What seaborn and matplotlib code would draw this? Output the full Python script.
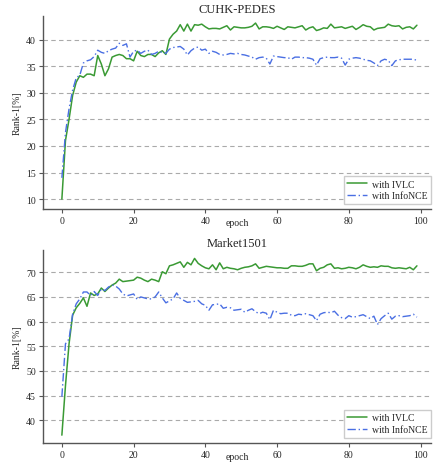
import numpy as np
import pandas as pd
import seaborn as sns
import matplotlib.pyplot as plt

epochs = list(range(100))

cuhk_ivlc = [
    10.0, 21.0, 25.0, 29.5, 32.0, 33.2, 32.9, 33.5, 33.5, 33.2,
    37.0, 35.4, 33.2, 34.5, 36.7, 37.0, 37.2, 37.0, 36.4, 36.4,
    36.0, 37.8, 37.0, 36.8, 37.2, 37.2, 36.8, 37.5, 37.9, 37.2,
    40.1, 41.0, 41.6, 42.8, 41.6, 42.9, 41.6, 42.8, 42.7, 42.9,
    42.4, 42.0, 42.1, 42.1, 42.0, 42.3, 42.6, 41.8, 42.4, 42.3,
    42.2, 42.2, 42.3, 42.5, 43.1, 42.0, 42.4, 42.4, 42.3, 42.1,
    42.5, 42.2, 41.9, 42.4, 42.3, 42.2, 42.4, 42.6, 41.8, 42.2,
    42.4, 41.7, 41.9, 42.2, 42.1, 42.9, 42.2, 42.3, 42.4, 42.1,
    42.3, 42.5, 41.9, 42.3, 42.8, 42.5, 42.4, 41.8, 42.1, 42.2,
    42.3, 42.9, 42.6, 42.5, 42.6, 42.0, 42.3, 42.4, 42.0, 42.7,
]
cuhk_infonce = [
    14.0, 22.5, 27.0, 30.5, 32.8, 33.3, 35.6, 36.0, 36.2, 36.8,
    38.0, 37.6, 37.4, 37.9, 38.2, 38.4, 39.3, 38.9, 39.2, 36.7,
    37.8, 38.0, 37.4, 37.8, 38.0, 37.2, 37.4, 37.8, 37.6, 37.4,
    38.2, 38.5, 38.6, 38.7, 38.2, 37.1, 37.9, 38.4, 38.6, 38.0,
    38.2, 37.4, 37.8, 37.6, 37.2, 37.1, 37.2, 37.4, 37.3, 37.4,
    37.2, 37.1, 36.9, 36.7, 36.3, 36.6, 36.7, 36.5, 35.4, 36.9,
    36.8, 36.7, 36.6, 36.6, 36.3, 36.7, 36.7, 36.6, 36.6, 36.5,
    36.3, 35.2, 36.4, 36.6, 36.7, 36.6, 36.6, 36.7, 36.5, 35.2,
    36.3, 36.5, 36.6, 36.5, 36.3, 36.1, 36.0, 35.6, 35.1, 36.0,
    36.3, 36.1, 35.1, 36.0, 36.2, 36.3, 36.3, 36.3, 36.3, 36.1,
]
market_ivlc = [
    37.0, 47.0, 55.5, 61.3, 62.8, 63.7, 64.8, 63.1, 65.8, 65.3,
    65.6, 66.8, 66.1, 66.8, 67.4, 67.8, 68.6, 68.1, 68.2, 68.3,
    68.4, 69.0, 68.8, 68.4, 68.1, 68.6, 68.4, 68.1, 70.1, 69.7,
    71.3, 71.5, 71.8, 72.1, 71.0, 72.0, 71.5, 72.8, 71.8, 71.3,
    70.9, 70.7, 71.5, 70.5, 71.9, 70.7, 71.0, 70.8, 70.7, 70.5,
    70.8, 71.0, 71.1, 71.3, 71.7, 70.8, 71.0, 71.2, 71.1, 71.0,
    70.9, 70.9, 70.8, 70.8, 71.3, 71.3, 71.2, 71.2, 71.4, 71.7,
    71.7, 70.3, 70.8, 71.0, 71.5, 71.7, 70.8, 70.9, 70.7, 70.8,
    71.0, 70.9, 70.7, 71.0, 71.5, 71.2, 71.0, 71.1, 71.0, 71.3,
    71.2, 71.2, 70.9, 70.8, 70.9, 70.8, 70.7, 71.0, 70.5, 71.3,
]
market_infonce = [
    44.8, 55.5, 56.5, 61.5, 63.6, 64.6, 66.0, 66.0, 65.3, 66.1,
    65.3, 66.6, 66.3, 67.0, 67.4, 67.2, 66.6, 65.6, 65.2, 65.4,
    65.6, 64.5, 65.0, 64.8, 64.6, 64.6, 65.0, 66.0, 64.8, 63.8,
    64.2, 64.6, 65.8, 64.7, 64.3, 63.9, 64.0, 64.1, 64.3, 63.6,
    63.3, 62.3, 63.4, 63.5, 63.6, 62.7, 62.9, 62.8, 62.3, 62.4,
    62.5, 61.9, 62.3, 62.6, 62.0, 61.6, 61.9, 61.7, 60.4, 62.3,
    61.9, 61.6, 61.7, 61.7, 61.3, 61.2, 61.5, 61.4, 61.6, 61.4,
    61.2, 60.2, 61.5, 61.8, 61.9, 61.8, 62.1, 61.3, 60.8, 60.6,
    61.2, 60.9, 61.0, 61.2, 61.4, 61.0, 60.6, 61.1, 59.4, 60.6,
    61.2, 61.7, 60.5, 61.1, 61.2, 61.0, 61.1, 61.2, 61.5, 60.9,
]

titles = ["CUHK-PEDES", "Market1501"]
labels = ["with IVLC", "with InfoNCE"]

sns.set_theme(style="ticks")
plt.rcParams['font.family'] = ['Liberation Serif', 'DejaVu Serif']

fig = plt.figure(figsize=(4.33, 4.64), dpi=100)
ax1 = fig.add_axes([0.099, 0.547, 0.897, 0.416])
ax2 = fig.add_axes([0.099, 0.043, 0.897, 0.416])

panels = [
    (ax1, cuhk_ivlc, cuhk_infonce, (8.1, 44.4), [10, 15, 20, 25, 30, 35, 40]),
    (ax2, market_ivlc, market_infonce, (35.4, 74.5), [40, 45, 50, 55, 60, 65, 70]),
]

for (ax, ivlc, infonce, ylim, yticks), title in zip(panels, titles):
    df = pd.DataFrame({"epoch": epochs, labels[0]: ivlc, labels[1]: infonce})
    sns.lineplot(data=df, x="epoch", y=labels[0], ax=ax, color="#3a9a34",
                 linewidth=1.1, label=labels[0])
    sns.lineplot(data=df, x="epoch", y=labels[1], ax=ax, color="#4a6fe3",
                 linewidth=1.0, linestyle=(0, (6, 2, 1, 2)), label=labels[1])
    ax.set_xlim(-5.3, 103)
    ax.set_ylim(*ylim)
    ax.set_yticks(yticks)
    ax.set_xticks([0, 20, 40, 60, 80, 100])
    ax.yaxis.grid(True, linestyle=(0, (4, 3)), color="#aaaaaa", linewidth=0.8)
    ax.set_axisbelow(True)
    sns.despine(ax=ax)
    for s in ["left", "bottom"]:
        ax.spines[s].set_color("#555555")
        ax.spines[s].set_linewidth(1.0)
    ax.tick_params(labelsize=7, length=3, width=0.8, color="#555555", pad=2)
    ax.set_title(title, fontsize=9, pad=3)
    ax.set_xlabel("epoch", fontsize=7, labelpad=-5)
    ax.set_ylabel("Rank-1[%]", fontsize=7, labelpad=3)
    ax.legend(loc="lower right", bbox_to_anchor=(1.0, 0.025), fontsize=7,
              frameon=True, fancybox=False, edgecolor="#cccccc", framealpha=1,
              handlelength=2.0, handletextpad=0.5, borderaxespad=0,
              borderpad=0.4, labelspacing=0.3)

fig.savefig("out.png", dpi=100)
